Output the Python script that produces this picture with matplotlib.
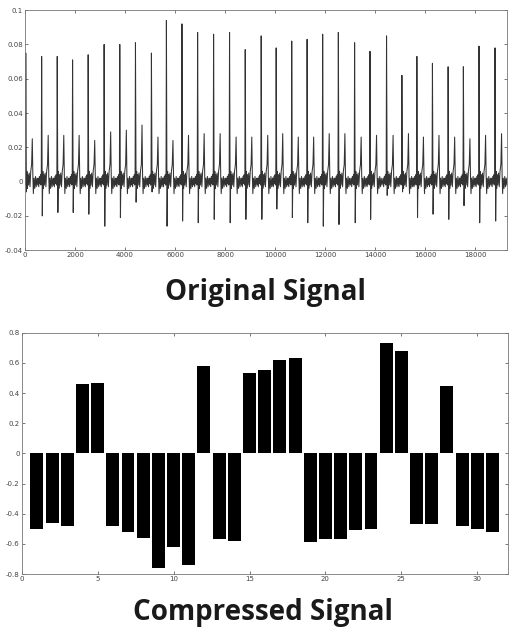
import numpy as np
import matplotlib.pyplot as plt

# beat positions (sample index) and amplitudes
beat_pos = [30, 666, 1289, 1903, 2526, 3164, 3790, 4417, 5055, 5654, 6276,
            6902, 7541, 8179, 8806, 9444, 10043, 10665, 11280, 11902, 12529,
            13179, 13794, 14456, 15070, 15669, 16291, 16918, 17528, 18154, 18793]
r_amp = [0.075, 0.073, 0.073, 0.071, 0.074, 0.080, 0.080, 0.081, 0.075, 0.094,
         0.092, 0.087, 0.086, 0.087, 0.077, 0.085, 0.078, 0.082, 0.083, 0.086,
         0.087, 0.081, 0.076, 0.085, 0.062, 0.073, 0.069, 0.067, 0.067, 0.079, 0.078]
s_amp = [-0.006, -0.020, -0.018, -0.018, -0.019, -0.026, -0.021, -0.012, -0.006,
         -0.026, -0.023, -0.024, -0.022, -0.024, -0.022, -0.022, -0.016, -0.021,
         -0.024, -0.026, -0.025, -0.024, -0.022, -0.008, -0.006, -0.021, -0.019,
         -0.022, -0.014, -0.024, -0.023]
t_amp = [0.025, 0.027, 0.027, 0.027, 0.024, 0.029, 0.030, 0.033, 0.026, 0.024,
         0.027, 0.028, 0.028, 0.026, 0.026, 0.027, 0.028, 0.026, 0.026, 0.028,
         0.028, 0.026, 0.027, 0.027, 0.028, 0.026, 0.027, 0.026, 0.025, 0.027, 0.028]

# compressed coefficients (bars 1..31)
coef = [-0.50, -0.46, -0.48, 0.46, 0.47, -0.48, -0.52, -0.56, -0.76, -0.62,
        -0.74, 0.58, -0.57, -0.58, 0.53, 0.55, 0.62, 0.63, -0.59, -0.57,
        -0.57, -0.51, -0.50, 0.73, 0.68, -0.47, -0.47, 0.45, -0.48, -0.50, -0.52]

# shape of one beat: sample offsets from the R peak and the level at each
# ('R', 'S', 'T' get replaced by the beat's own amplitudes)
beat_off = [-140, -115, -90, -65, -45, -30, -14, 0, 26, 48, 66, 88, 110,
            140, 170, 200, 235, 262, 285, 305, 330, 360, 390, 420, 450, 480]
beat_lvl = [0.002, -0.003, 0.003, -0.001, 0.004, -0.002, 0.005, 'R', 'S', 0.006,
            -0.004, 0.004, -0.002, 0.005, -0.003, 0.006, 0.010, 'T', 0.003,
            -0.007, 0.002, -0.004, 0.003, -0.003, 0.002, -0.002]

sig_x, sig_y = [0], [0.0]
for p, r, s, t in zip(beat_pos, r_amp, s_amp, t_amp):
    for off, lvl in zip(beat_off, beat_lvl):
        x = p + off
        if x < 0:
            continue
        v = {'R': r, 'S': s, 'T': t}.get(lvl, lvl)
        sig_x.append(x)
        sig_y.append(v)

fig = plt.figure(figsize=(5.1, 6.35), dpi=100)
tick_col = '#444444'

# Original signal
ax1 = fig.add_axes([0.049, 0.606, 0.945, 0.378])
ax1.plot(sig_x, sig_y, color='#333333', linewidth=0.75)
ax1.set_xlim(0, 19270)
ax1.set_ylim(-0.04, 0.1)
ax1.set_xticks(np.arange(0, 18001, 2000))
ax1.set_yticks([-0.04, -0.02, 0, 0.02, 0.04, 0.06, 0.08, 0.1])
ax1.set_yticklabels(['-0.04', '-0.02', '0', '0.02', '0.04', '0.06', '0.08', '0.1'])

# Compressed signal
ax2 = fig.add_axes([0.0425, 0.096, 0.953, 0.380])
idx = np.arange(1, len(coef) + 1)
ax2.bar(idx, coef, width=0.85, color='black')
ax2.set_xlim(0, 32)
ax2.set_ylim(-0.8, 0.8)
ax2.set_xticks(np.arange(0, 31, 5))
ax2.set_yticks(np.arange(-0.8, 0.81, 0.2))
ax2.set_yticklabels(['-0.8', '-0.6', '-0.4', '-0.2', '0', '0.2', '0.4', '0.6', '0.8'])

for ax in (ax1, ax2):
    ax.tick_params(direction='in', length=2.5, width=0.5, labelsize=5,
                   colors=tick_col, pad=1.5, top=True, right=True)
    for sp in ax.spines.values():
        sp.set_linewidth(0.6)
        sp.set_color('#777777')
        sp.set_linestyle((0, (2, 1)))

fig.text(0.52, 0.540, 'Original Signal', ha='center', va='center',
         fontsize=20, fontweight='bold', family='Open Sans', color='#1a1a1a')
fig.text(0.515, 0.035, 'Compressed Signal', ha='center', va='center',
         fontsize=20, fontweight='bold', family='Open Sans', color='#1a1a1a')

fig.savefig('out.png', dpi=100)
